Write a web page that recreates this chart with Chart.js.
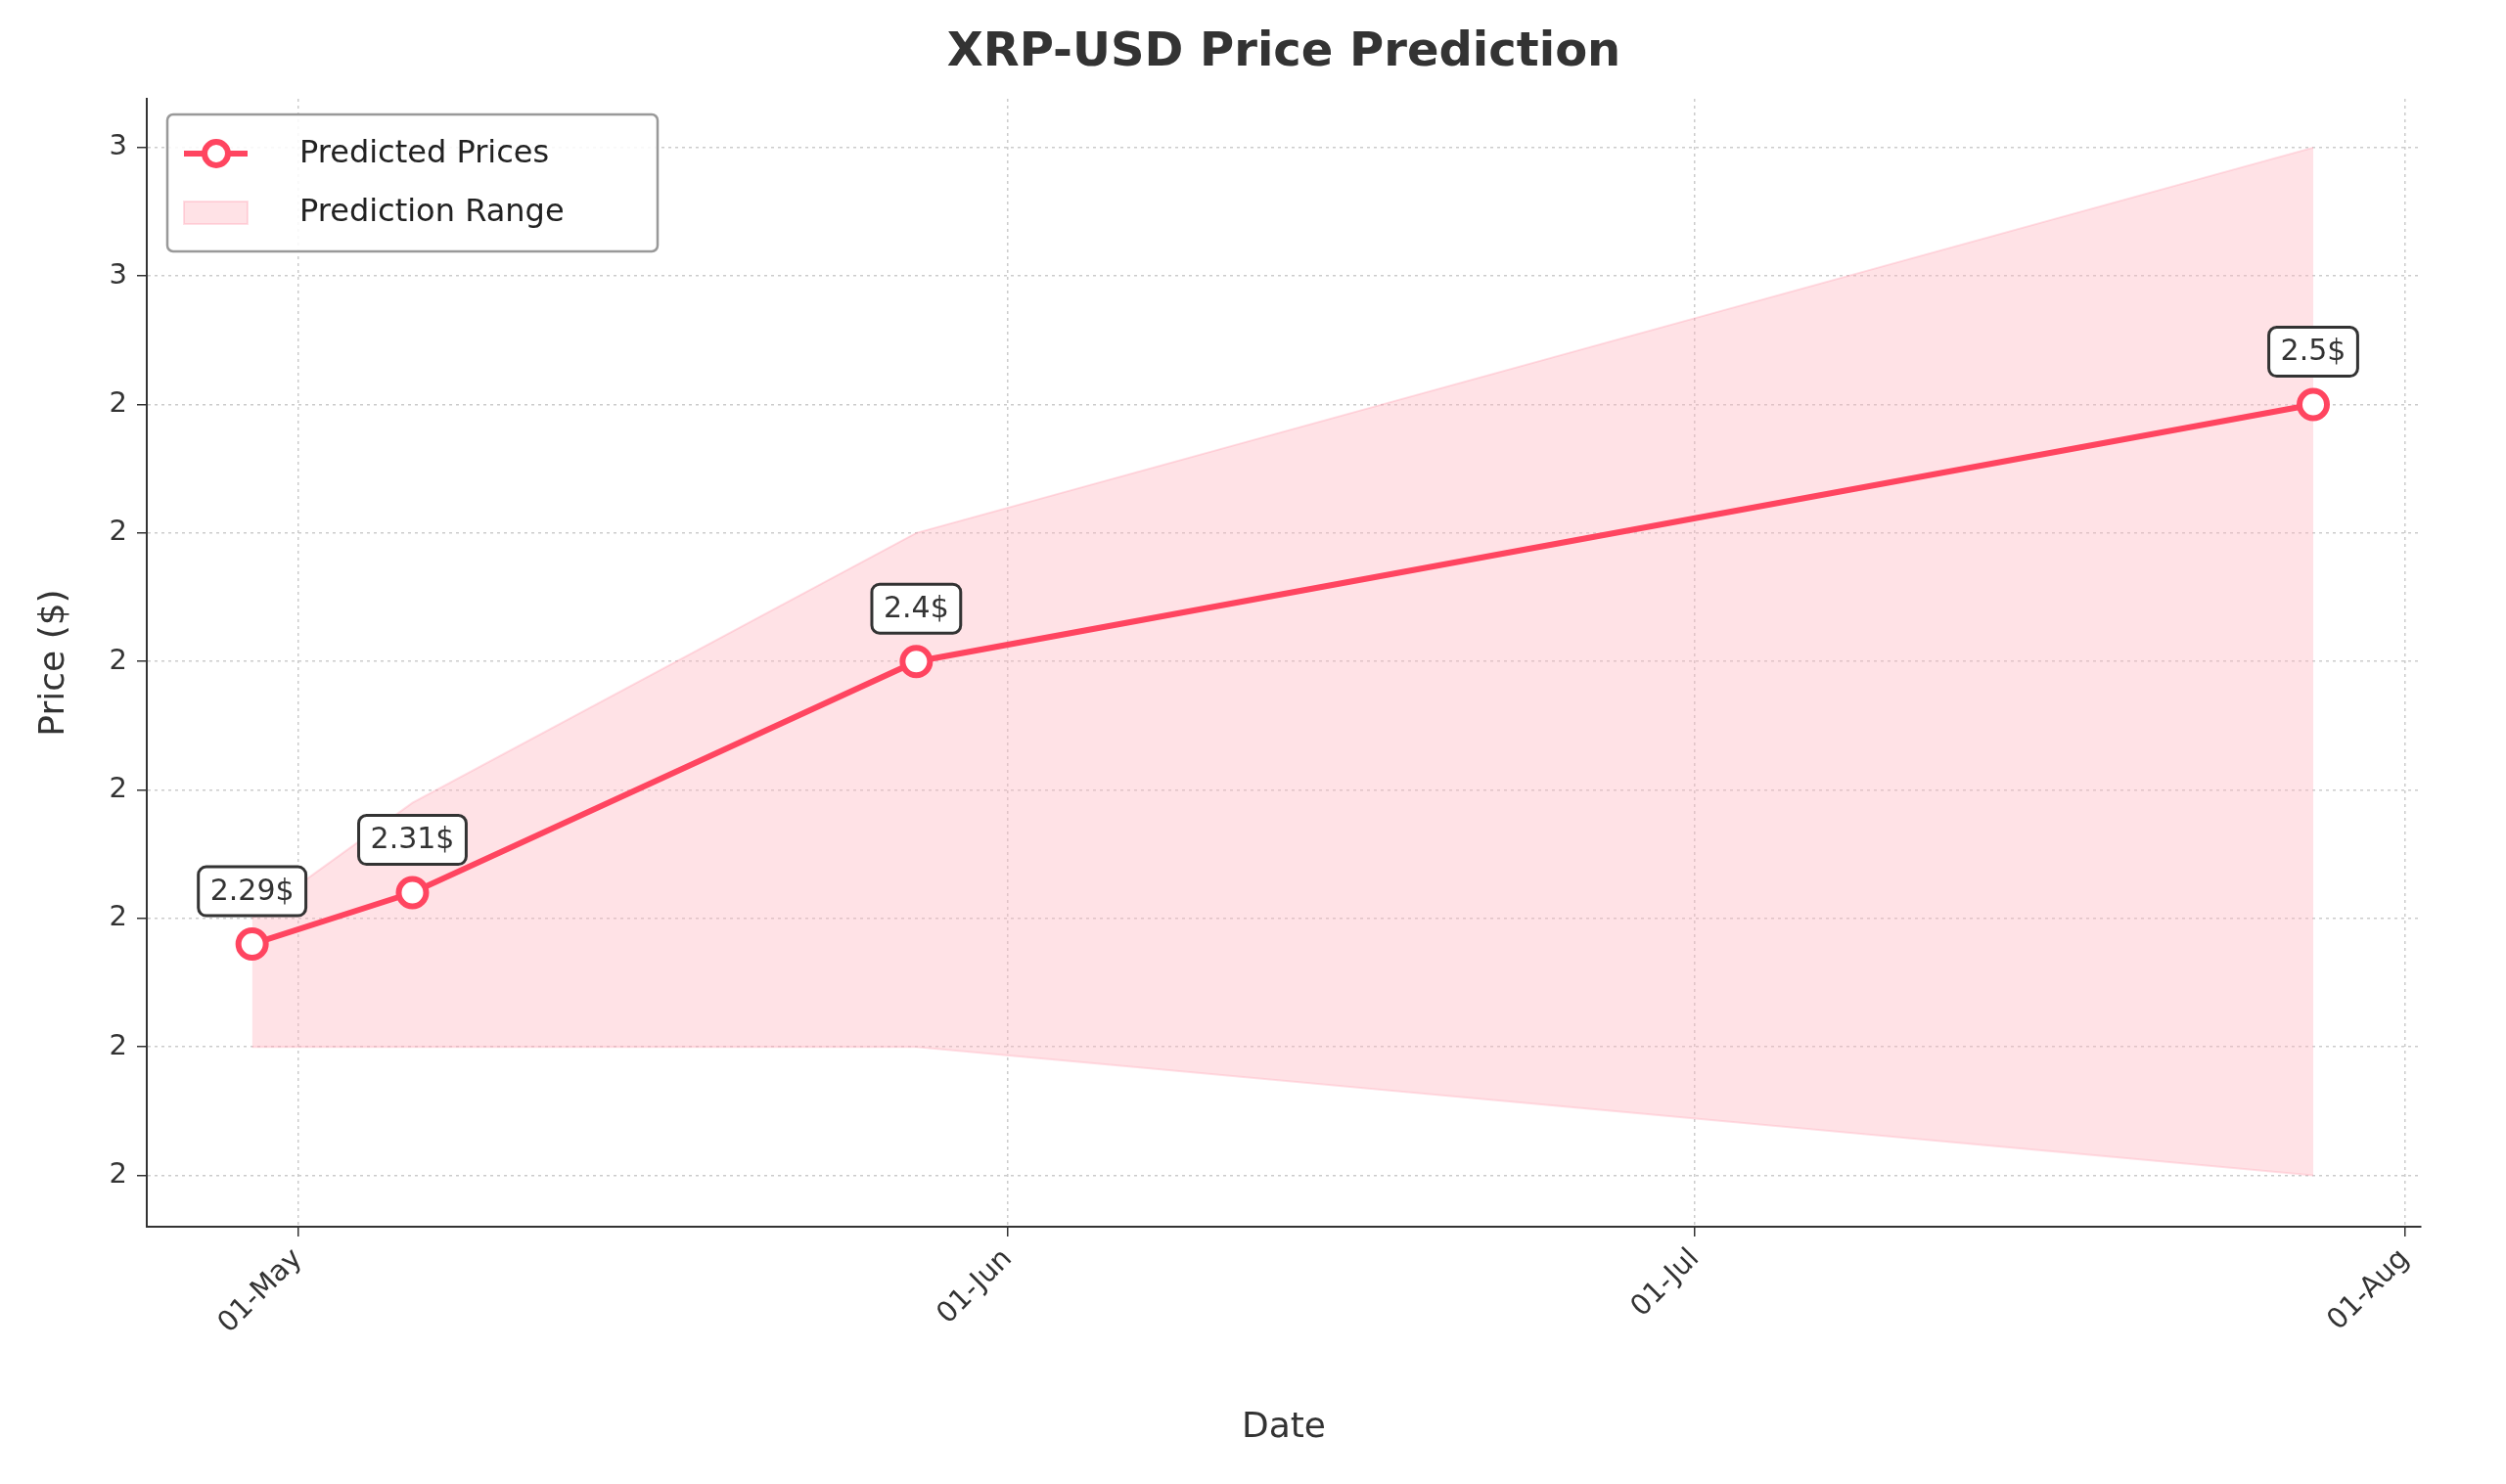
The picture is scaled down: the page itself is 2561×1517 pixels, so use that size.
<!DOCTYPE html>
<html><head><meta charset="utf-8">
<script src="https://cdn.jsdelivr.net/npm/chart.js@4"></script>
<style>html,body{margin:0;padding:0;background:#fff}#w{width:2561px;height:1517px}</style>
</head><body><div id="w"><canvas id="c"></canvas></div>
<script>
// days relative to 01-May
const dates = [-2, 5, 27, 88];
const predicted = [2.29, 2.31, 2.40, 2.50];
const upper = [2.30, 2.345, 2.45, 2.60];
const lower = [2.25, 2.25, 2.25, 2.20];
const labels = ['2.29$', '2.31$', '2.4$', '2.5$'];
const xTickDays = [0, 31, 61, 92];
const xTickLabels = ['01-May', '01-Jun', '01-Jul', '01-Aug'];
const yTicks = [2.2, 2.25, 2.3, 2.35, 2.4, 2.45, 2.5, 2.55, 2.6];

const red = '#ff4560';
const font = 'DejaVu Sans';
const pts = (arr) => dates.map((d, i) => ({x: d, y: arr[i]}));

const deco = {
  id: 'deco',
  afterDraw(ch) {
    const c = ch.ctx, xs = ch.scales.x, ys = ch.scales.y;
    c.save();
    c.fillStyle = '#333'; c.font = `bold 48px "${font}"`; c.textAlign = 'center'; c.textBaseline = 'middle';
    c.fillText('XRP-USD Price Prediction', (xs.left + xs.right) / 2, 55);
    c.font = `36px "${font}"`;
    c.fillText('Date', (xs.left + xs.right) / 2, 1460);
    c.save(); c.translate(56, (ys.top + ys.bottom) / 2); c.rotate(-Math.PI / 2);
    c.fillText('Price ($)', 0, 0); c.restore();
    // annotations
    c.font = `30px "${font}"`;
    predicted.forEach((v, i) => {
      const px = xs.getPixelForValue(dates[i]), py = ys.getPixelForValue(v) - 54;
      const w = c.measureText(labels[i]).width + 24, h = 50;
      c.beginPath(); c.roundRect(px - w / 2, py - h / 2, w, h, 8);
      c.fillStyle = '#fff'; c.fill(); c.strokeStyle = '#333'; c.lineWidth = 3; c.stroke();
      c.fillStyle = '#333'; c.fillText(labels[i], px, py + 1);
    });
    // legend
    const lx = 171, ly = 117, lw = 501, lh = 140;
    c.beginPath(); c.roundRect(lx, ly, lw, lh, 6);
    c.fillStyle = 'rgba(255,255,255,0.85)'; c.fill(); c.strokeStyle = '#999'; c.lineWidth = 2.5; c.stroke();
    c.strokeStyle = red; c.lineWidth = 6;
    c.beginPath(); c.moveTo(lx + 17, ly + 40); c.lineTo(lx + 82, ly + 40); c.stroke();
    c.beginPath(); c.arc(lx + 50, ly + 40, 12, 0, 2 * Math.PI); c.fillStyle = '#fff'; c.fill(); c.stroke();
    c.fillStyle = 'rgba(255,182,193,0.4)'; c.strokeStyle = 'rgba(255,150,170,0.3)'; c.lineWidth = 2;
    c.fillRect(lx + 17, ly + 89, 65, 23); c.strokeRect(lx + 17, ly + 89, 65, 23);
    c.fillStyle = '#222'; c.textAlign = 'left'; c.font = `32px "${font}"`;
    c.fillText('Predicted Prices', lx + 135, ly + 41);
    c.fillText('Prediction Range', lx + 135, ly + 101);
    c.restore();
  }
};

new Chart(document.getElementById('c'), {
  type: 'line',
  data: { datasets: [
    { data: pts(lower), borderColor: 'rgba(255,150,170,0.3)', borderWidth: 2, pointRadius: 0, fill: false, order: 3 },
    { data: pts(upper), borderColor: 'rgba(255,150,170,0.3)', borderWidth: 2, pointRadius: 0, fill: '-1', backgroundColor: 'rgba(255,182,193,0.4)', order: 2 },
    { data: pts(predicted), borderColor: red, borderWidth: 6, pointRadius: 14, pointBorderWidth: 6, pointBackgroundColor: '#fff', pointBorderColor: red, fill: false, order: 1 }
  ]},
  options: {
    responsive: true, maintainAspectRatio: false, animation: false,
    layout: { padding: { top: 101, right: 87, left: 0, bottom: 0 } },
    plugins: { legend: { display: false }, tooltip: { enabled: false } },
    scales: {
      x: { type: 'linear', min: -6.6, max: 92.7,
        afterBuildTicks: a => { a.ticks = xTickDays.map(v => ({value: v})); },
        afterFit: a => { a.height = 263; },
        ticks: { minRotation: 45, maxRotation: 45, color: '#333', font: { family: font, size: 29 }, padding: 6,
          callback: v => xTickLabels[xTickDays.indexOf(v)] },
        grid: { color: '#ccc', tickColor: '#333', tickLength: 10, lineWidth: 1.5 },
        border: { color: '#333', width: 2, dash: [3, 4] } },
      y: { min: 2.18, max: 2.619,
        afterBuildTicks: a => { a.ticks = yTicks.map(v => ({value: v})); },
        afterFit: a => { a.width = 150; },
        ticks: { color: '#333', font: { family: font, size: 29 }, padding: 10,
          callback: v => (Math.round(v * 100) / 100 >= 2.55 ? '3' : '2') },
        grid: { color: '#ccc', tickColor: '#333', tickLength: 10, lineWidth: 1.5 },
        border: { color: '#333', width: 2, dash: [3, 4] } }
    }
  },
  plugins: [deco]
});
</script></body></html>
